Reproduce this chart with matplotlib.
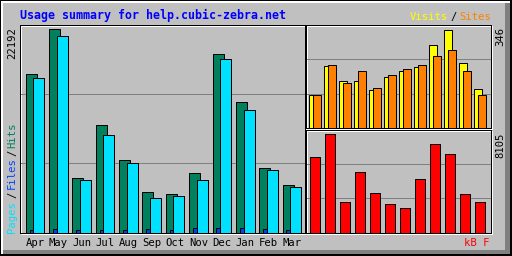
import matplotlib
matplotlib.use("Agg")
import matplotlib.pyplot as plt
from matplotlib.patches import Rectangle

# Datos
months = ["Apr", "May", "Jun", "Jul", "Aug", "Sep", "Oct", "Nov", "Dec", "Jan", "Feb", "Mar"]
hits = [17266, 22192, 5989, 11791, 7883, 4456, 4237, 6536, 19455, 14200, 7007, 5222]
files = [220, 330, 220, 220, 220, 330, 220, 460, 460, 460, 330, 220]
pages = [16828, 21458, 5770, 10697, 7631, 3799, 4018, 5770, 18908, 13433, 6788, 5003]
visits = [115, 219, 166, 166, 134, 180, 201, 215, 290, 346, 229, 138]
sites = [115, 222, 159, 201, 141, 187, 208, 222, 254, 275, 201, 115]
kbytes = [6203, 8105, 2481, 4962, 3225, 2316, 1985, 4383, 7278, 6451, 3143, 2481]

title = "Usage summary for help.cubic-zebra.net"
max_hits, max_visits, max_kb = "22192", "346", "8105"

W, H = 512, 256
GREY, DKGREY = "#C0C0C0", "#808080"
MONO = "DejaVu Sans Mono"
LW = 0.72  # 1 px

fig = plt.figure(figsize=(W / 100, H / 100), dpi=100, facecolor=GREY)

def box(x0, y0, x1, y1):
    return [x0 / W, 1 - y1 / H, (x1 - x0) / W, (y1 - y0) / H]

# fondo en coordenadas de pixel
bg = fig.add_axes([0, 0, 1, 1])
bg.set_xlim(0, W)
bg.set_ylim(H, 0)
bg.axis("off")
bg.add_patch(Rectangle((0, 0), W, H, color="black", lw=0))
bg.add_patch(Rectangle((1, 1), 509, 253, color="white", lw=0))
bg.add_patch(Rectangle((3, 3), 507, 251, color=DKGREY, lw=0))
bg.add_patch(Rectangle((3, 3), 502, 247, color=GREY, lw=0))

def panel(rect, xlim, ytop):
    ax = fig.add_axes(box(*rect))
    ax.set_facecolor("none")
    ax.set_xlim(xlim)
    ax.set_ylim(0, ytop)
    for k in (1, 2):
        ax.axhline(ytop * k / 3, color=DKGREY, lw=LW, zorder=0)
    ax.set_xticks([])
    ax.set_yticks([])
    for s in ax.spines.values():
        s.set_color("black")
        s.set_linewidth(LW)
    x0, y0, x1, y1 = rect
    bg.add_patch(Rectangle((x0 + 1, y0 + 1), x1 - x0, y1 - y0, fill=False, ec="white", lw=LW))
    return ax

x = range(12)

# panel principal: hits / files / pages
ax = panel((20, 25, 305, 232.5), (-0.642, 11.56), 22192 * 207.5 / 203.2)
ax.bar([i - 0.163 for i in x], hits, width=0.47, color="#00805C", edgecolor="black", lw=LW)
ax.bar(x, files, width=0.47, color="#0040FF", edgecolor="black", lw=LW)
ax.bar([i + 0.163 for i in x], pages, width=0.47, color="#00E0FF", edgecolor="black", lw=LW)
ax.set_xticks(list(x), months, fontfamily=MONO, fontsize=7.6)
ax.tick_params(length=0, pad=4.2)

# visits / sites
ax2 = panel((306, 25, 491, 128), (-0.6, 11.73), 346 * 103 / 98.5)
ax2.bar([i - 0.133 for i in x], visits, width=0.49, color="#FFFF00", edgecolor="black", lw=LW)
ax2.bar([i + 0.133 for i in x], sites, width=0.49, color="#FF8000", edgecolor="black", lw=LW)

# kbytes
ax3 = panel((306, 130, 491, 232.5), (-0.6, 11.73), 8105 * 102.5 / 98.2)
ax3.bar(x, kbytes, width=0.63, color="#FF0000", edgecolor="black", lw=LW)

# textos
bg.text(20, 15, title, color="#0000FF", fontfamily=MONO, fontsize=8.4, fontweight="bold", va="center")
bg.text(12.5, 27, max_hits, rotation=90, ha="center", va="top", fontfamily=MONO, fontsize=7.6)
bg.text(500, 27, max_visits, rotation=90, ha="center", va="top", fontfamily=MONO, fontsize=7.6)
bg.text(500, 132, max_kb, rotation=90, ha="center", va="top", fontfamily=MONO, fontsize=7.6)

for txt, yc, col in [("Pages", 217, "#00E0FF"), ("/", 195, "black"), ("Files", 173, "#0040FF"),
                     ("/", 153, "black"), ("Hits", 135, "#00805C")]:
    bg.text(12, yc, txt, rotation=90, ha="center", va="center", color=col, fontfamily=MONO, fontsize=7.6)

bg.text(447.5, 17, "Visits", ha="right", va="center", color="#FFFF00", fontfamily=MONO, fontsize=7.6)
bg.text(453.5, 17, "/", ha="center", va="center", color="black", fontfamily=MONO, fontsize=7.6)
bg.text(459.5, 17, "Sites", ha="left", va="center", color="#FF8000", fontfamily=MONO, fontsize=7.6)
bg.text(490, 243, "kB F", ha="right", va="center", color="#FF0000", fontfamily=MONO, fontsize=7.6)

fig.savefig("out.png", dpi=100, facecolor=GREY)
